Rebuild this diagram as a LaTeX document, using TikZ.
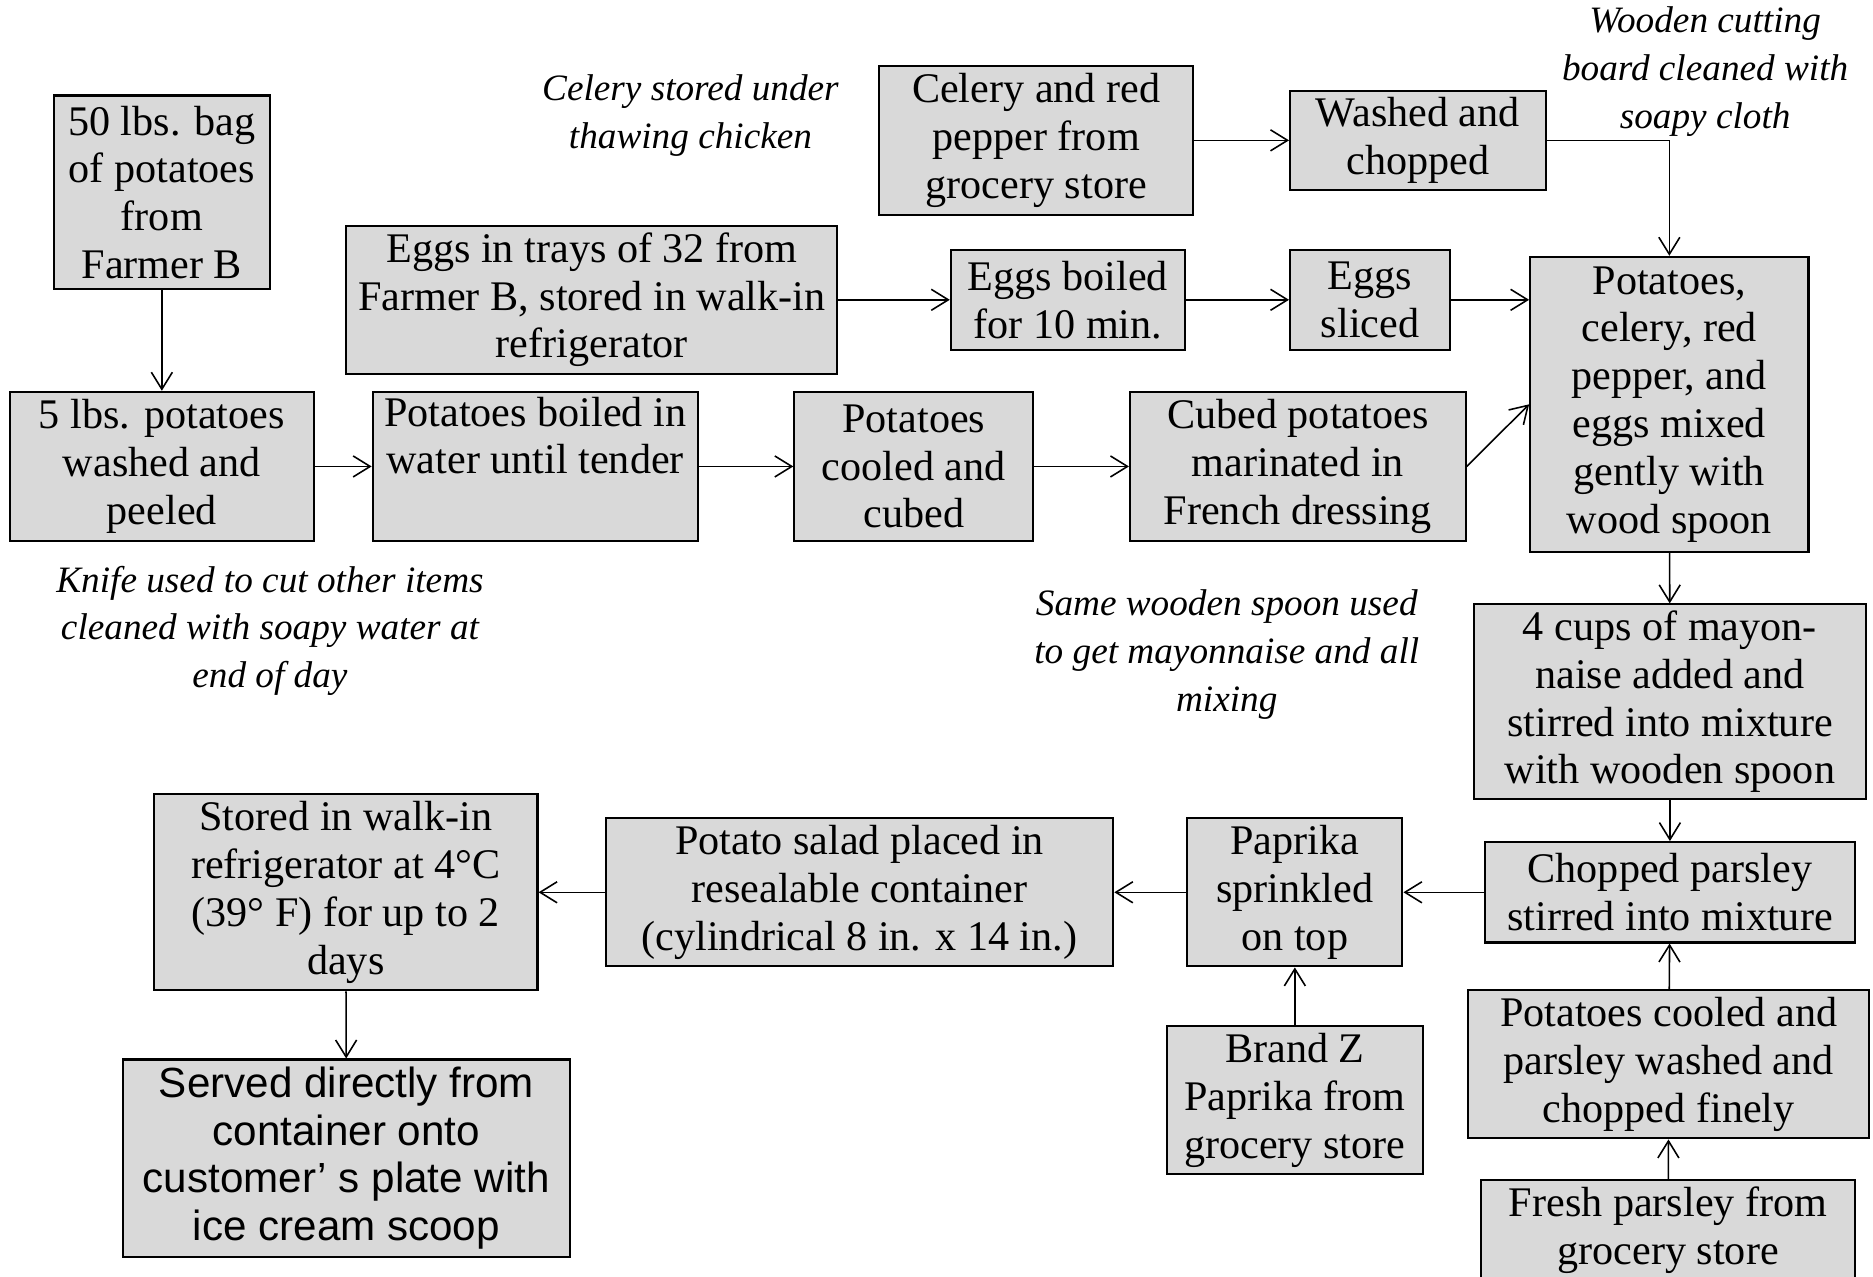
\documentclass[tikz,border=0pt]{standalone}
\usepackage{fontspec}
\setmainfont{Liberation Serif}
\newfontfamily\arialfont{Liberation Sans}
\usetikzlibrary{positioning,arrows.meta}

\definecolor{boxgray}{HTML}{D9D9D9}
\newcommand{\pu}{0.011945cm}
\newcommand{\boxfont}{\fontsize{12}{13.6}\selectfont}
\newcommand{\notefont}{\fontsize{10.6}{13.6}\selectfont\itshape}

\tikzset{
	procbox/.style={draw, fill=boxgray, line width=0.6pt, align=center, inner sep=1pt, font=\boxfont},
	note/.style={align=center, inner sep=0pt, font=\notefont},
	flow/.style={-{Straight Barb[length=1.7mm,width=2.1mm]}, line width=0.45pt}
}

\begin{document}
\begin{tikzpicture}[x=\pu,y=-\pu]
	\useasboundingbox (0,0) rectangle (1568,1069);

	% Potato line
	\node[procbox, minimum width=181*\pu, minimum height=162*\pu] (bag) at (135.5,161) {50 lbs. bag\\of potatoes\\from\\Farmer B};
	\node[procbox, minimum width=255*\pu, minimum height=125*\pu] (wash) at (135.5,390.5) {5 lbs. potatoes\\washed and\\peeled};
	\node[procbox, minimum width=272*\pu, minimum height=125*\pu] (boil) at (448,390.5) {Potatoes boiled in\\water until tender\\\strut};
	\node[procbox, minimum width=200*\pu, minimum height=125*\pu] (cube) at (765,390.5) {Potatoes\\cooled and\\cubed};
	\node[procbox, minimum width=281*\pu, minimum height=125*\pu] (marinate) at (1086.5,390.5) {Cubed potatoes\\marinated in\\French dressing};

	% Eggs line
	\node[procbox, minimum width=411*\pu, minimum height=124*\pu] (eggs) at (495.5,251) {Eggs in trays of 32 from\\Farmer B, stored in walk-in\\refrigerator};
	\node[procbox, minimum width=196*\pu, minimum height=84*\pu] (eggboil) at (894,251) {Eggs boiled\\for 10 min.};
	\node[procbox, minimum width=134*\pu, minimum height=84*\pu] (eggslice) at (1147,251) {Eggs\\sliced};

	% Celery line
	\node[procbox, minimum width=263*\pu, minimum height=125*\pu] (celery) at (867.5,117.5) {Celery and red\\pepper from\\grocery store};
	\node[procbox, minimum width=214*\pu, minimum height=83*\pu] (chop) at (1187,117.5) {Washed and\\chopped};

	% Mixing column
	\node[procbox, minimum width=233*\pu, minimum height=247*\pu] (mix) at (1397.5,338.5) {Potatoes,\\celery, red\\pepper, and\\eggs mixed\\gently with\\wood spoon};
	\node[procbox, minimum width=328*\pu, minimum height=163*\pu] (mayo) at (1398,587.5) {4 cups of mayon-\\naise added and\\stirred into mixture\\with wooden spoon};
	\node[procbox, minimum width=310*\pu, minimum height=84*\pu] (parsley) at (1398,747) {Chopped parsley\\stirred into mixture};
	\node[procbox, minimum width=336*\pu, minimum height=124*\pu] (prep) at (1397,891) {Potatoes cooled and\\parsley washed and\\chopped finely};
	\node[procbox, minimum width=313*\pu, minimum height=84*\pu] (fresh) at (1396.5,1030) {Fresh parsley from\\grocery store};

	% Finishing line
	\node[procbox, minimum width=180*\pu, minimum height=124*\pu] (sprinkle) at (1084,747) {Paprika\\sprinkled\\on top};
	\node[procbox, minimum width=214*\pu, minimum height=124*\pu] (brand) at (1084,921) {Brand Z\\Paprika from\\grocery store};
	\node[procbox, minimum width=425*\pu, minimum height=124*\pu] (container) at (719.5,747) {Potato salad placed in\\resealable container\\(cylindrical 8 in. x 14 in.)};
	\node[procbox, minimum width=321*\pu, minimum height=164*\pu] (store) at (289.5,747) {Stored in walk-in\\refrigerator at 4°C\\(39° F) for up to 2\\days};
	\node[procbox, minimum width=374*\pu, minimum height=165*\pu, font=\arialfont\fontsize{12}{13.6}\selectfont] (serve) at (290,969.5) {Served directly from\\container onto\\customer’ s plate with\\ice cream scoop};

	% Notes
	\node[note] (celerynote) at (578,97) {Celery stored under\\thawing chicken};
	\node[note] (boardnote) at (1427.5,60) {Wooden cutting\\board cleaned with\\soapy cloth};
	\node[note] (knifenote) at (226,528) {Knife used to cut other items\\cleaned with soapy water at\\end of day};
	\node[note] (spoonnote) at (1027,548) {Same wooden spoon used\\to get mayonnaise and all\\mixing};

	% Arrows
	\draw[flow] (bag) -- (wash);
	\draw[flow] (wash) -- (boil);
	\draw[flow] (boil) -- (cube);
	\draw[flow] (cube) -- (marinate);
	\draw[flow] (marinate.east) -- (mix.west);
	\draw[flow] (eggs) -- (eggboil);
	\draw[flow] (eggboil) -- (eggslice);
	\draw[flow] (eggslice.east) -- (eggslice.east -| mix.west);
	\draw[flow] (celery) -- (chop);
	\draw[flow] (chop.east) -| (mix.north);
	\draw[flow] (mix) -- (mayo);
	\draw[flow] (mayo) -- (parsley);
	\draw[flow] (prep) -- (parsley);
	\draw[flow] (fresh) -- (prep);
	\draw[flow] (parsley) -- (sprinkle);
	\draw[flow] (brand) -- (sprinkle);
	\draw[flow] (sprinkle) -- (container);
	\draw[flow] (container) -- (store);
	\draw[flow] (store) -- (serve);
\end{tikzpicture}
\end{document}
